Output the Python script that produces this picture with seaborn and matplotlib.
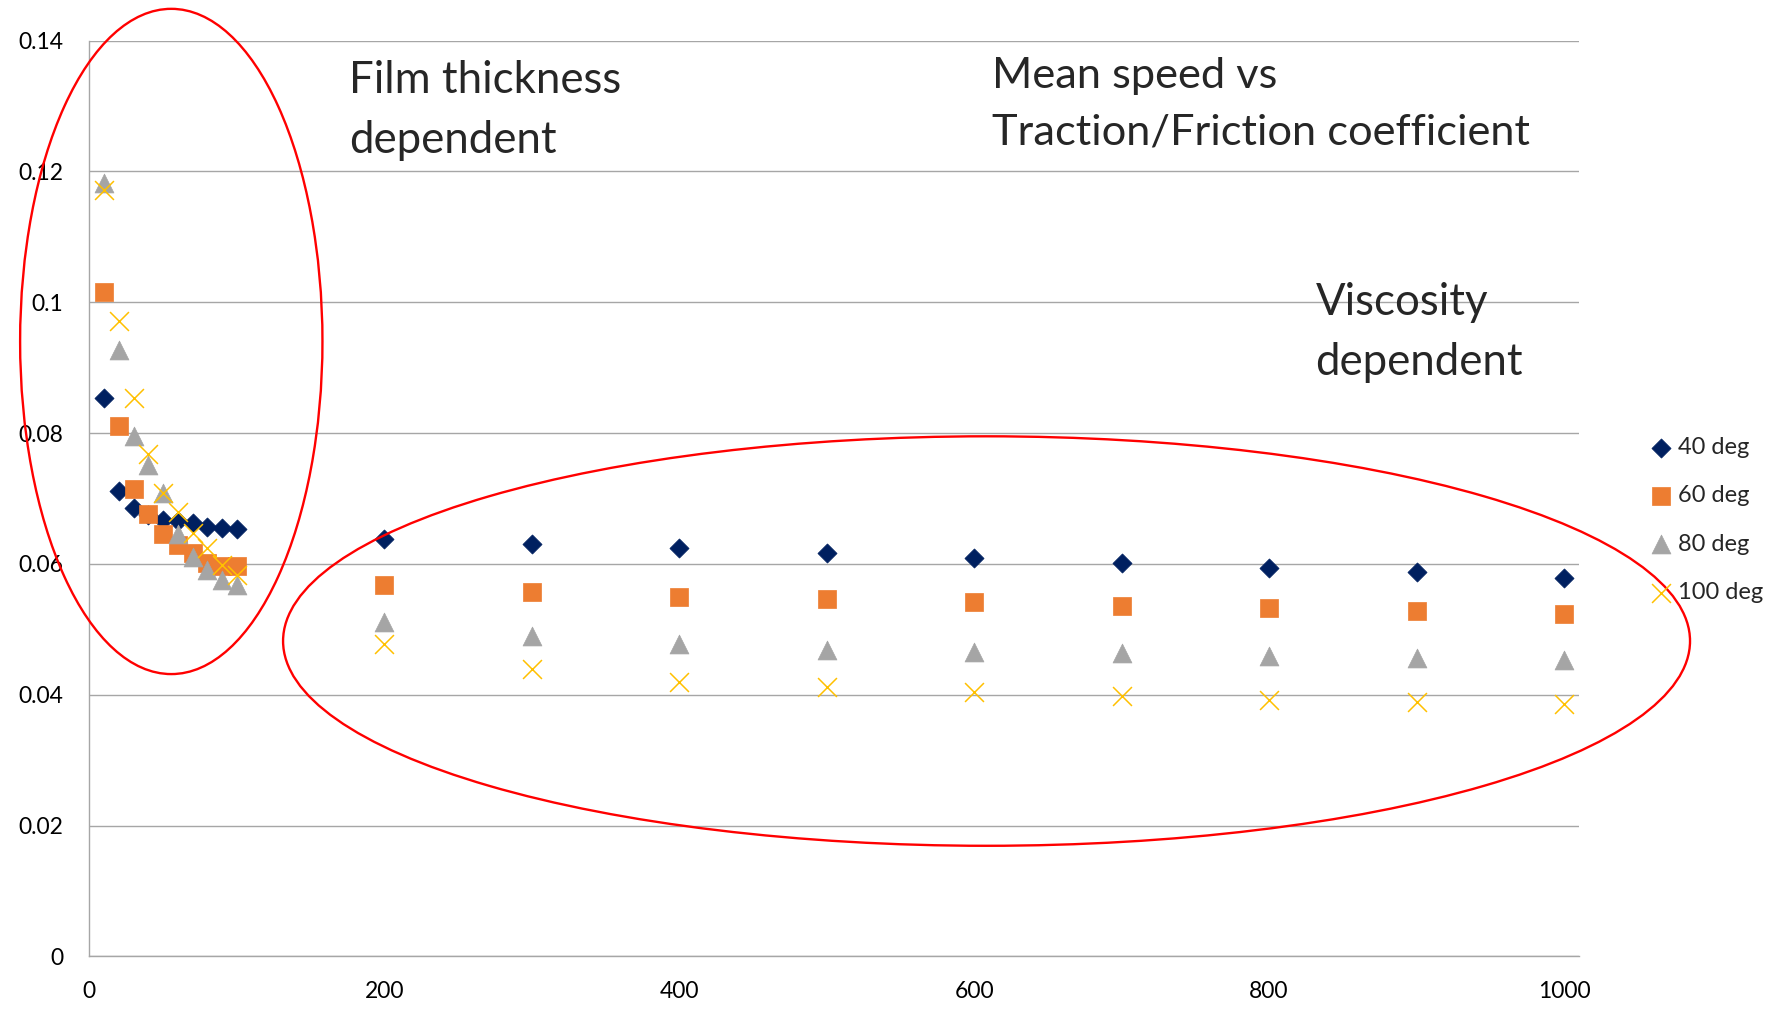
import matplotlib
matplotlib.use("Agg")
import matplotlib.pyplot as plt
from matplotlib.patches import Ellipse
import seaborn as sns
import pandas as pd

# ---- data ----
speed = [10, 20, 30, 40, 50, 60, 70, 80, 90, 100,
         200, 300, 400, 500, 600, 700, 800, 900, 1000]
deg40 = [0.0853, 0.0712, 0.0685, 0.0675, 0.0667, 0.0665, 0.0662, 0.0657, 0.0655, 0.0654,
         0.0638, 0.0631, 0.0624, 0.0616, 0.0609, 0.0602, 0.0594, 0.0588, 0.0579]
deg60 = [0.1015, 0.0811, 0.0715, 0.0676, 0.0646, 0.0629, 0.0617, 0.0601, 0.0596, 0.0596,
         0.0567, 0.0557, 0.0549, 0.0546, 0.0541, 0.0536, 0.0532, 0.0528, 0.0523]
deg80 = [0.1183, 0.0927, 0.0796, 0.0751, 0.0708, 0.0646, 0.0611, 0.0590, 0.0575, 0.0568,
         0.0511, 0.0490, 0.0477, 0.0469, 0.0465, 0.0463, 0.0459, 0.0456, 0.0453]
deg100 = [0.1172, 0.0971, 0.0853, 0.0768, 0.0708, 0.0680, 0.0647, 0.0624, 0.0598, 0.0583,
          0.0477, 0.0439, 0.0420, 0.0411, 0.0404, 0.0398, 0.0392, 0.0389, 0.0386]
series_names = ["40 deg", "60 deg", "80 deg", "100 deg"]
x_ticks = [0, 200, 400, 600, 800, 1000]
y_ticks = [0, 0.02, 0.04, 0.06, 0.08, 0.1, 0.12, 0.14]
y_tick_labels = ["0", "0.02", "0.04", "0.06", "0.08", "0.1", "0.12", "0.14"]

sns.set_theme(style="white")
plt.rcParams["font.family"] = ["Lato", "DejaVu Sans"]

fig = plt.figure(figsize=(17.68, 10.09), dpi=100)
ax = fig.add_axes([0.0505, 0.0522, 0.8425, 0.9076])

styles = [
    dict(marker="D", s=95, color="#002060", edgecolor="#002060", linewidth=0.5),
    dict(marker="s", s=185, color="#ED7D31", edgecolor="#ED7D31", linewidth=0.5),
    dict(marker="^", s=185, color="#A5A5A5", edgecolor="#A5A5A5", linewidth=0.5),
    dict(marker="x", s=185, color="#FFC000", linewidth=1.1),
]
for name, vals, st in zip(series_names, [deg40, deg60, deg80, deg100], styles):
    df = pd.DataFrame({"speed": speed, "coef": vals})
    sns.scatterplot(data=df, x="speed", y="coef", ax=ax, label=name, zorder=3, **st)

ax.set_xlim(0, 1010)
ax.set_ylim(0, 0.14)
ax.set_xticks(x_ticks)
ax.set_xticklabels([str(t) for t in x_ticks])
ax.set_yticks(y_ticks)
ax.set_yticklabels(y_tick_labels)
ax.set_xlabel("")
ax.set_ylabel("")
ax.grid(axis="y", color="#A6A6A6", linewidth=1.0)
ax.grid(axis="x", visible=False)
for side in ["top", "right"]:
    ax.spines[side].set_visible(False)
for side in ["left", "bottom"]:
    ax.spines[side].set_color("#A6A6A6")
    ax.spines[side].set_linewidth(1.0)
ax.tick_params(axis="both", which="major", direction="out", length=5.5, width=1.0,
               color="#A6A6A6", labelsize=16.5, labelcolor="black")
ax.tick_params(axis="x", pad=12.5)
ax.tick_params(axis="y", pad=13)

# ellipses (annotations)
e1 = Ellipse((55.6, 0.0940), 205, 0.1017, fill=False, edgecolor="#FF0000",
             linewidth=1.7, clip_on=False, zorder=4)
e2 = Ellipse((608.4, 0.0482), 954, 0.0626, fill=False, edgecolor="#FF0000",
             linewidth=1.7, clip_on=False, zorder=4)
ax.add_patch(e1)
ax.add_patch(e2)

# annotation texts (va='baseline' anchors the last line here)
fig.text(0.1975, 0.848, "Film thickness\ndependent", fontsize=31.5, va="baseline",
         ha="left", linespacing=1.6)
fig.text(0.561, 0.857, "Mean speed vs\nTraction/Friction coefficient", fontsize=31.2,
         va="baseline", ha="left", linespacing=1.6)
fig.text(0.744, 0.628, "Viscosity\ndependent", fontsize=31.5, va="baseline",
         ha="left", linespacing=1.6)

leg = ax.legend(loc="center left", bbox_to_anchor=(0.9327, 0.4846),
                bbox_transform=fig.transFigure, frameon=False, fontsize=17,
                handlelength=1.0, handletextpad=0.22, borderpad=0, borderaxespad=0,
                labelspacing=1.15)

fig.savefig("out.png", dpi=100)
